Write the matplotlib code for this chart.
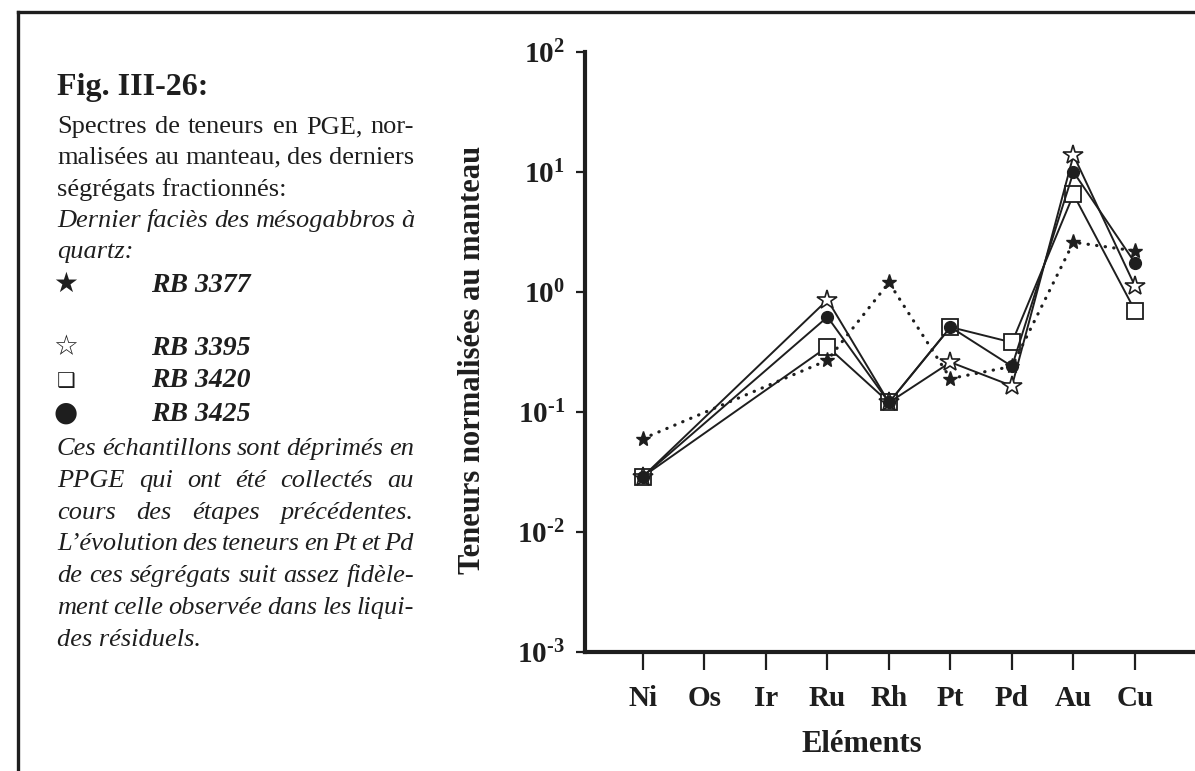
import matplotlib
matplotlib.use("Agg")
import matplotlib.pyplot as plt
from matplotlib.lines import Line2D
from matplotlib.ticker import NullLocator

# --- data: mantle-normalised PGE contents ---
elements = ["Ni", "Os", "Ir", "Ru", "Rh", "Pt", "Pd", "Au", "Cu"]
measured = ["Ni", "Ru", "Rh", "Pt", "Pd", "Au", "Cu"]

rb3377 = [0.06, 0.27, 1.2, 0.19, 0.24, 2.6, 2.2]
rb3395 = [0.029, 0.86, 0.12, 0.26, 0.165, 13.8, 1.12]
rb3420 = [0.029, 0.35, 0.12, 0.51, 0.38, 6.5, 0.70]
rb3425 = [0.029, 0.62, 0.12, 0.51, 0.24, 10.0, 1.75]

ytick_vals = [1e-3, 1e-2, 1e-1, 1e0, 1e1, 1e2]
ytick_labels = [r"$10^{\text{-}3}$", r"$10^{\text{-}2}$", r"$10^{\text{-}1}$",
                r"$10^{0}$", r"$10^{1}$", r"$10^{2}$"]

# --- caption text ---
caption_title = "Fig. III-26:"
caption_intro = ["Spectres de teneurs en PGE, nor-",
                 "malisées au manteau, des derniers",
                 "ségrégats fractionnés:"]
caption_facies = ["Dernier faciès des mésogabbros à",
                  "quartz:"]
sample_symbols = ["★", "☆", "❑", "●"]
sample_names = ["RB 3377", "RB 3395", "RB 3420", "RB 3425"]
caption_note = ["Ces échantillons sont déprimés en",
                "PPGE qui ont été collectés au",
                "cours des étapes précédentes.",
                "L’évolution des teneurs en Pt et Pd",
                "de ces ségrégats suit assez fidèle-",
                "ment celle observée dans les liqui-",
                "des résiduels."]

ink = "#1e1e1e"
serif = "Liberation Serif"
plt.rcParams["font.family"] = [serif, "DejaVu Sans"]
plt.rcParams["mathtext.fontset"] = "custom"
plt.rcParams["mathtext.rm"] = "Liberation Serif:bold"
plt.rcParams["mathtext.it"] = "Liberation Serif:bold:italic"
plt.rcParams["mathtext.bf"] = "Liberation Serif:bold"

W, H = 1195, 771
fig = plt.figure(figsize=(W / 100, H / 100), dpi=100)
fig.patch.set_facecolor("white")
renderer = fig.canvas.get_renderer()


def fx(x):
    return x / W


def fy(y):
    return 1 - y / H


# page frame (top and left edges)
fig.add_artist(Line2D([fx(18), 1.0], [fy(12), fy(12)], lw=2.4, color=ink,
                      transform=fig.transFigure))
fig.add_artist(Line2D([fx(18), fx(18)], [fy(12), 0.0], lw=2.4, color=ink,
                      transform=fig.transFigure))


def put_line(text, y, justify=True, x0=57, x1=414, **kw):
    words = text.split(" ")
    if not justify or len(words) == 1:
        fig.text(fx(x0), fy(y), text, va="baseline", ha="left", color=ink, **kw)
        return
    arts = [fig.text(0, fy(y), w, va="baseline", ha="left", color=ink, **kw)
            for w in words]
    widths = [a.get_window_extent(renderer).width for a in arts]
    gap = max((x1 - x0 - sum(widths)) / (len(words) - 1), 2)
    x = x0
    for a, w in zip(arts, widths):
        a.set_x(fx(x))
        x += w + gap


fig.text(fx(57), fy(95), caption_title, fontsize=23, fontweight="bold",
         color=ink, va="baseline")

y = 133
for i, line in enumerate(caption_intro):
    put_line(line, y, justify=i < len(caption_intro) - 1, fontsize=19)
    y += 31.3
for i, line in enumerate(caption_facies):
    put_line(line, y, justify=i < len(caption_facies) - 1, fontsize=19,
             style="italic")
    y += 31.3

symbol_sizes = [20, 20, 15, 20]
for base, sym, name, size in zip([292, 355, 387, 421], sample_symbols,
                                 sample_names, symbol_sizes):
    fig.text(fx(66), fy(base), sym, fontsize=size, color=ink, ha="center",
             va="baseline", family=["DejaVu Sans"])
    fig.text(fx(151), fy(base), name, fontsize=20, color=ink,
             fontweight="bold", style="italic", va="baseline")

y = 455
for i, line in enumerate(caption_note):
    put_line(line, y, justify=i < len(caption_note) - 1, fontsize=19,
             style="italic")
    y += 31.8

# --- spectra plot ---
ax = fig.add_axes([fx(585), 1 - 652 / H, 610 / W, 600 / H])
xpos = [elements.index(e) for e in measured]

line_kw = dict(color=ink, lw=1.4)
ax.plot(xpos, rb3420, "-", marker="s", ms=12, mfc="white", mec=ink, mew=1.3,
        **line_kw)
ax.plot(xpos, rb3395, "-", marker="*", ms=15, mfc="white", mec=ink, mew=1.2,
        **line_kw)
ax.plot(xpos, rb3425, "-", marker="o", ms=8.5, mfc=ink, mec=ink, **line_kw)
ax.plot(xpos, rb3377, linestyle=(0, (0.1, 2.6)), lw=2.3, color=ink,
        dash_capstyle="round", marker="*", ms=11, mfc=ink, mec=ink)

ax.set_yscale("log")
ax.set_ylim(1e-3, 1e2)
ax.set_yticks(ytick_vals)
ax.set_yticklabels(ytick_labels)
ax.yaxis.set_minor_locator(NullLocator())
ax.set_xticks(range(len(elements)))
ax.set_xticklabels(elements, fontsize=21, fontweight="bold")
ax.set_xlim(-0.943, 8.976)

for side in ("top", "right"):
    ax.spines[side].set_visible(False)
for side in ("left", "bottom"):
    ax.spines[side].set_linewidth(3)
    ax.spines[side].set_color(ink)

ax.tick_params(axis="x", direction="out", length=13, width=1.6, pad=11,
               colors=ink)
ax.tick_params(axis="y", direction="out", length=6.5, width=1.6, pad=8,
               labelsize=21, colors=ink)

ax.set_ylabel("Teneurs normalisées au manteau", fontsize=22,
              fontweight="bold", color=ink)
ax.yaxis.set_label_coords(-0.185, 0.487)
ax.set_xlabel("Eléments", fontsize=22, fontweight="bold", color=ink)
ax.xaxis.set_label_coords(0.454, -0.155)
ax.xaxis.label.set_va("center")
ax.yaxis.label.set_va("center")

fig.savefig("out.png", dpi=100)
